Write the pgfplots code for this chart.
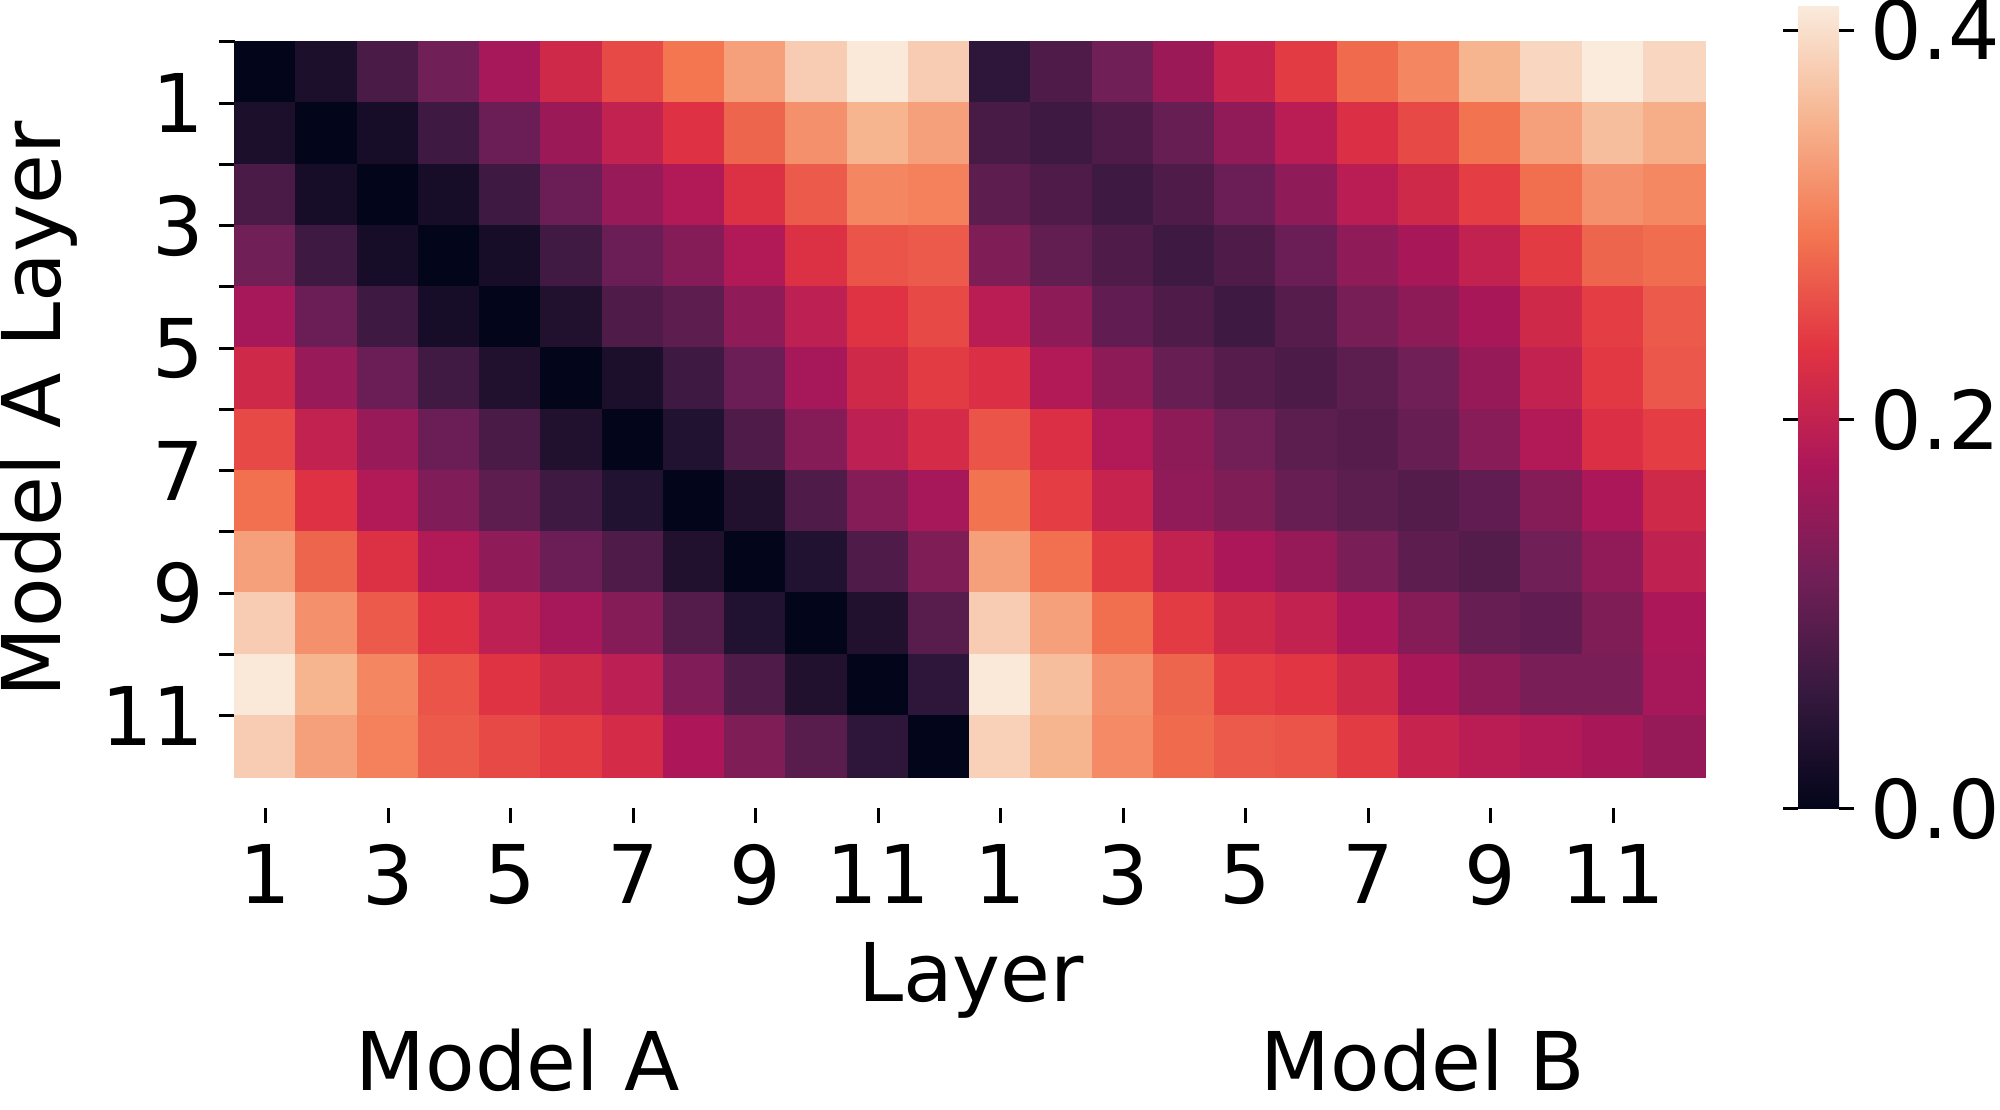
\documentclass[border=0pt]{standalone}
\usepackage{fontspec}
\setmainfont{DejaVu Sans}
\usepackage{pgfplots}
\pgfplotsset{compat=1.18}

% seaborn "rocket", sampled at 0, 1/7, ..., 1
\pgfplotsset{
  colormap={rocket}{rgb255=(3,5,26) rgb255=(53,25,62) rgb255=(112,31,87)
    rgb255=(173,23,89) rgb255=(225,51,66) rgb255=(243,118,81)
    rgb255=(246,180,143) rgb255=(250,235,221)},
  tick style={black, line width=0.75pt},
}

\begin{document}
\fontsize{20.25pt}{24pt}\selectfont
\begin{tikzpicture}
\path[use as bounding box] (-58.75pt,-83.25pt) rectangle (441.25pt,194.25pt);

\begin{axis}[
  name=main,
  scale only axis, width=367.5pt, height=183.75pt,
  at={(0pt,0pt)}, anchor=south west,
  xmin=-0.5, xmax=23.5, ymin=-0.5, ymax=11.5, y dir=reverse,
  axis line style={draw=none},
  xtick=\empty,
  ytick={-0.5,0.5,...,10.5},
  yticklabels={,1,,3,,5,,7,,9,,11},
  ytick pos=left, tick align=outside, major tick length=4pt,
  yticklabel style={anchor=east, inner sep=0pt}, yticklabel shift=3.5pt,
  colormap name=rocket,
  point meta min=0, point meta max=0.413,
  colorbar,
  colorbar shift/.style={xshift=23.25pt, yshift=-8pt},
  colorbar style={
    at={(parent axis.south east)}, anchor=south west,
    scale only axis, width=10.25pt, height=201pt,
    axis line style={draw=none},
    ytick={0,0.2,0.4}, yticklabels={0.0,0.2,0.4},
    tick align=outside, major tick length=3.75pt,
    tick style={black, line width=0.75pt},
    yticklabel style={anchor=west, inner sep=0pt}, yticklabel shift=4pt,
  },
  clip=false,
]
% rows: Model A layers 1..12; columns: Model A layers 1..12, then Model B layers 1..12
\addplot[matrix plot*, mesh/cols=24, point meta=explicit] coordinates {
(0,0)[0.000] (1,0)[0.030] (2,0)[0.080] (3,0)[0.118] (4,0)[0.170] (5,0)[0.215] (6,0)[0.255] (7,0)[0.295] (8,0)[0.335] (9,0)[0.380] (10,0)[0.410] (11,0)[0.380] (12,0)[0.050] (13,0)[0.085] (14,0)[0.118] (15,0)[0.160] (16,0)[0.205] (17,0)[0.243] (18,0)[0.285] (19,0)[0.310] (20,0)[0.354] (21,0)[0.390] (22,0)[0.413] (23,0)[0.390]
(0,1)[0.030] (1,1)[0.000] (2,1)[0.025] (3,1)[0.068] (4,1)[0.113] (5,1)[0.160] (6,1)[0.200] (7,1)[0.232] (8,1)[0.280] (9,1)[0.320] (10,1)[0.354] (11,1)[0.335] (12,1)[0.078] (13,1)[0.068] (14,1)[0.085] (15,1)[0.108] (16,1)[0.150] (17,1)[0.190] (18,1)[0.228] (19,1)[0.255] (20,1)[0.292] (21,1)[0.335] (22,1)[0.365] (23,1)[0.348]
(0,2)[0.080] (1,2)[0.025] (2,2)[0.000] (3,2)[0.025] (4,2)[0.068] (5,2)[0.113] (6,2)[0.158] (7,2)[0.183] (8,2)[0.230] (9,2)[0.270] (10,2)[0.310] (11,2)[0.305] (12,2)[0.100] (13,2)[0.085] (14,2)[0.068] (15,2)[0.085] (16,2)[0.113] (17,2)[0.148] (18,2)[0.190] (19,2)[0.215] (20,2)[0.245] (21,2)[0.288] (22,2)[0.320] (23,2)[0.312]
(0,3)[0.118] (1,3)[0.068] (2,3)[0.025] (3,3)[0.000] (4,3)[0.025] (5,3)[0.070] (6,3)[0.113] (7,3)[0.138] (8,3)[0.183] (9,3)[0.230] (10,3)[0.265] (11,3)[0.270] (12,3)[0.132] (13,3)[0.104] (14,3)[0.085] (15,3)[0.068] (16,3)[0.085] (17,3)[0.113] (18,3)[0.148] (19,3)[0.172] (20,3)[0.200] (21,3)[0.243] (22,3)[0.280] (23,3)[0.287]
(0,4)[0.170] (1,4)[0.113] (2,4)[0.068] (3,4)[0.025] (4,4)[0.000] (5,4)[0.035] (6,4)[0.085] (7,4)[0.100] (8,4)[0.148] (9,4)[0.195] (10,4)[0.234] (11,4)[0.255] (12,4)[0.190] (13,4)[0.145] (14,4)[0.103] (15,4)[0.085] (16,4)[0.068] (17,4)[0.092] (18,4)[0.125] (19,4)[0.145] (20,4)[0.172] (21,4)[0.215] (22,4)[0.245] (23,4)[0.270]
(0,5)[0.215] (1,5)[0.158] (2,5)[0.113] (3,5)[0.070] (4,5)[0.035] (5,5)[0.000] (6,5)[0.030] (7,5)[0.068] (8,5)[0.113] (9,5)[0.170] (10,5)[0.215] (11,5)[0.243] (12,5)[0.228] (13,5)[0.183] (14,5)[0.145] (15,5)[0.108] (16,5)[0.092] (17,5)[0.083] (18,5)[0.098] (19,5)[0.118] (20,5)[0.155] (21,5)[0.200] (22,5)[0.240] (23,5)[0.268]
(0,6)[0.255] (1,6)[0.200] (2,6)[0.158] (3,6)[0.113] (4,6)[0.080] (5,6)[0.035] (6,6)[0.000] (7,6)[0.037] (8,6)[0.085] (9,6)[0.138] (10,6)[0.195] (11,6)[0.220] (12,6)[0.265] (13,6)[0.228] (14,6)[0.183] (15,6)[0.145] (16,6)[0.120] (17,6)[0.098] (18,6)[0.092] (19,6)[0.108] (20,6)[0.140] (21,6)[0.183] (22,6)[0.228] (23,6)[0.245]
(0,7)[0.290] (1,7)[0.232] (2,7)[0.183] (3,7)[0.133] (4,7)[0.100] (5,7)[0.068] (6,7)[0.037] (7,7)[0.000] (8,7)[0.035] (9,7)[0.085] (10,7)[0.138] (11,7)[0.170] (12,7)[0.292] (13,7)[0.245] (14,7)[0.205] (15,7)[0.150] (16,7)[0.132] (17,7)[0.108] (18,7)[0.098] (19,7)[0.090] (20,7)[0.103] (21,7)[0.138] (22,7)[0.175] (23,7)[0.215]
(0,8)[0.335] (1,8)[0.280] (2,8)[0.230] (3,8)[0.183] (4,8)[0.148] (5,8)[0.113] (6,8)[0.085] (7,8)[0.035] (8,8)[0.000] (9,8)[0.037] (10,8)[0.085] (11,8)[0.132] (12,8)[0.335] (13,8)[0.290] (14,8)[0.243] (15,8)[0.200] (16,8)[0.175] (17,8)[0.155] (18,8)[0.128] (19,8)[0.100] (20,8)[0.090] (21,8)[0.118] (22,8)[0.150] (23,8)[0.197]
(0,9)[0.380] (1,9)[0.320] (2,9)[0.270] (3,9)[0.232] (4,9)[0.195] (5,9)[0.170] (6,9)[0.138] (7,9)[0.090] (8,9)[0.037] (9,9)[0.000] (10,9)[0.035] (11,9)[0.095] (12,9)[0.380] (13,9)[0.335] (14,9)[0.288] (15,9)[0.243] (16,9)[0.215] (17,9)[0.200] (18,9)[0.175] (19,9)[0.138] (20,9)[0.108] (21,9)[0.103] (22,9)[0.132] (23,9)[0.175]
(0,10)[0.410] (1,10)[0.354] (2,10)[0.310] (3,10)[0.265] (4,10)[0.234] (5,10)[0.215] (6,10)[0.193] (7,10)[0.133] (8,10)[0.085] (9,10)[0.035] (10,10)[0.000] (11,10)[0.050] (12,10)[0.410] (13,10)[0.365] (14,10)[0.320] (15,10)[0.280] (16,10)[0.245] (17,10)[0.238] (18,10)[0.215] (19,10)[0.172] (20,10)[0.145] (21,10)[0.128] (22,10)[0.128] (23,10)[0.170]
(0,11)[0.380] (1,11)[0.335] (2,11)[0.305] (3,11)[0.270] (4,11)[0.255] (5,11)[0.243] (6,11)[0.220] (7,11)[0.177] (8,11)[0.132] (9,11)[0.095] (10,11)[0.050] (11,11)[0.000] (12,11)[0.385] (13,11)[0.354] (14,11)[0.315] (15,11)[0.285] (16,11)[0.270] (17,11)[0.265] (18,11)[0.243] (19,11)[0.205] (20,11)[0.190] (21,11)[0.183] (22,11)[0.172] (23,11)[0.155]
};
\end{axis}

% x ticks sit a little below the heatmap, as in the original
\begin{axis}[
  scale only axis, width=367.5pt, height=1pt,
  at={(0pt,-7.75pt)}, anchor=south west,
  xmin=-0.5, xmax=23.5, ymin=0, ymax=1,
  axis x line*=bottom, hide y axis, axis line style={draw=none},
  xtick={0,2,...,22}, xticklabels={1,3,5,7,9,11,1,3,5,7,9,11},
  tick align=outside, major tick length=3.75pt,
  xticklabel style={anchor=north, inner sep=0pt}, xticklabel shift=5.25pt,
]
\end{axis}

\node[rotate=90, anchor=base] at (-43.5pt,91.875pt) {Model A Layer};
\node[anchor=base] at (184pt,-56.25pt) {Layer};
\node[anchor=base] at (70.75pt,-78.5pt) {Model A};
\node[anchor=base] at (297pt,-78.5pt) {Model B};
\end{tikzpicture}
\end{document}
